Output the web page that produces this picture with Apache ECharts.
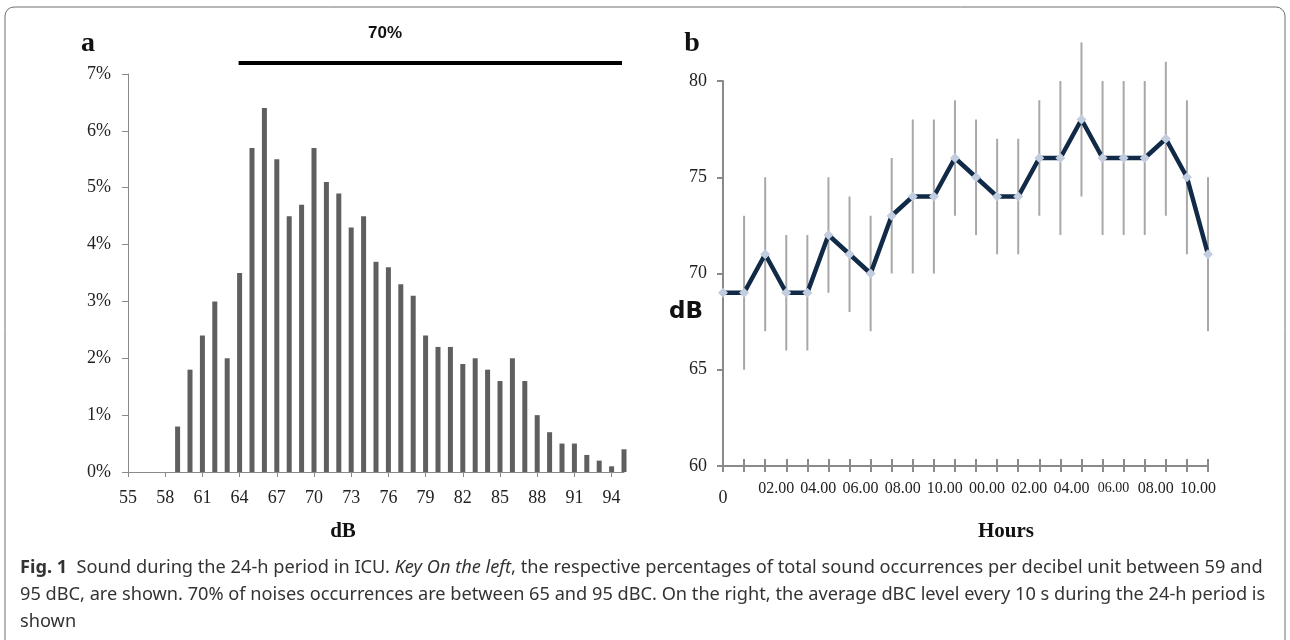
<!DOCTYPE html>
<html>
<head>
<meta charset="utf-8">
<title>Fig. 1 Sound in ICU</title>
<script src="https://cdn.jsdelivr.net/npm/echarts@6/dist/echarts.min.js"></script>
<style>
html, body { margin: 0; padding: 0; background: #fff; }
#main { width: 1290px; height: 640px; }
</style>
</head>
<body>
<div id="main"></div>
<script>
// panel a : share of all sound occurrences per dB unit (%)
var dbCategories = ['55','56','57','58','59','60','61','62','63','64','65','66','67','68','69','70','71','72','73','74',
	'75','76','77','78','79','80','81','82','83','84','85','86','87','88','89','90','91','92','93','94','95'];
var dbShare = [null, null, null, null,
	0.8, 1.8, 2.4, 3.0, 2.0, 3.5, 5.7, 6.4, 5.5, 4.5, 4.7, 5.7, 5.1, 4.9, 4.3, 4.5,
	3.7, 3.6, 3.3, 3.1, 2.4, 2.2, 2.2, 1.9, 2.0, 1.8, 1.6, 2.0, 1.6, 1.0, 0.7, 0.5, 0.5, 0.3, 0.2, 0.1, 0.4];
var rangeFrom = '64';
var rangeTo = '95';
var rangeText = '70%';

// panel b : mean dB per hour with min / max whiskers
var hourCategories = ['0','1','2','3','4','5','6','7','8','9','10','11','12','13','14','15','16','17','18','19','20','21','22','23'];
var hourLabels = ['0','','02.00','','04.00','','06.00','','08.00','','10.00','','00.00','','02.00','','04.00','','06.00','','08.00','','10.00',''];
var meanDb = [69, 69, 71, 69, 69, 72, 71, 70, 73, 74, 74, 76, 75, 74, 74, 76, 76, 78, 76, 76, 76, 77, 75, 71];
var lowDb  = [null, 65, 67, 66, 66, 69, 68, 67, 70, 70, 70, 73, 72, 71, 71, 73, 72, 74, 72, 72, 72, 73, 71, 67];
var highDb = [null, 73, 75, 72, 72, 75, 74, 73, 76, 78, 78, 79, 78, 77, 77, 79, 80, 82, 80, 80, 80, 81, 79, 75];

var caption = '{b|Fig. 1}  Sound during the 24-h period in ICU. {i|Key On the left}, the respective percentages of total sound occurrences per decibel unit between 59 and\n' +
	'95 dBC, are shown. 70% of noises occurrences are between 65 and 95 dBC. On the right, the average dBC level every 10 s during the 24-h period is\n' +
	'shown';

var serif = '"Liberation Serif", "DejaVu Serif", serif';
var capFont = '18.2px "Noto Sans", sans-serif';
var axisGray = '#8a8a8a';

function buildWhiskers(){
	var list = [];
	for (var i = 0; i < hourCategories.length; i++) {
		if (lowDb[i] == null || highDb[i] == null) continue;
		list.push([i, lowDb[i], highDb[i]]);
	}
	return list;
}

function makeUpChart(){
	var myChart = echarts.init(document.getElementById('main'));

	var option = {
		animation: false,
		backgroundColor: '#fff',
		grid: [
			{ left: 128, top: 74, width: 496, height: 398 },
			{ left: 723, top: 81, width: 485, height: 385 }
		],
		xAxis: [
			{
				gridIndex: 0,
				type: 'category',
				data: dbCategories,
				boundaryGap: false,
				axisLine: { lineStyle: { color: axisGray, width: 1 } },
				axisTick: { interval: 2, length: 5, lineStyle: { color: axisGray } },
				axisLabel: { interval: 2, margin: 17, color: '#222', fontFamily: serif, fontSize: 18 },
				splitLine: { show: false }
			},
			{
				gridIndex: 1,
				type: 'category',
				data: hourCategories,
				boundaryGap: false,
				axisLine: { lineStyle: { color: axisGray, width: 2 } },
				axisTick: { interval: 0, length: 6, lineStyle: { color: axisGray, width: 2 } },
				axisLabel: {
					interval: 0,
					margin: 15,
					color: '#222',
					fontFamily: serif,
					formatter: function (value, idx) {
						var t = hourLabels[idx];
						if (!t) return '';
						if (idx == 0) return '{z|' + t + '}';
						if (idx == 18) return '{m|' + t + '}';
						return '{s|' + t + '}';
					},
					rich: {
						z: { fontFamily: serif, fontSize: 18, color: '#222', padding: [8, 0, 0, 0] },
						s: { fontFamily: serif, fontSize: 16, color: '#222', padding: [0, 0, 0, 22] },
						m: { fontFamily: serif, fontSize: 14, color: '#222', padding: [0, 0, 4, 22] }
					}
				},
				splitLine: { show: false }
			},
			{
				// inner half of the crossing ticks
				gridIndex: 1,
				type: 'category',
				position: 'bottom',
				data: hourCategories,
				boundaryGap: false,
				axisLine: { show: false },
				axisTick: { inside: true, interval: 0, length: 7, lineStyle: { color: axisGray, width: 2 } },
				axisLabel: { show: false },
				splitLine: { show: false }
			}
		],
		yAxis: [
			{
				gridIndex: 0,
				type: 'value',
				min: 0,
				max: 7,
				interval: 1,
				axisLine: { show: true, lineStyle: { color: axisGray } },
				axisTick: { show: true, length: 6, lineStyle: { color: axisGray } },
				axisLabel: { formatter: '{value}%', margin: 17, color: '#222', fontFamily: serif, fontSize: 18 },
				splitLine: { show: false }
			},
			{
				gridIndex: 1,
				type: 'value',
				min: 60,
				max: 80,
				interval: 5,
				axisLine: { show: true, lineStyle: { color: axisGray, width: 2 } },
				axisTick: { show: true, length: 6, lineStyle: { color: axisGray, width: 2 } },
				axisLabel: { margin: 16, color: '#222', fontFamily: serif, fontSize: 18 },
				splitLine: { show: false }
			}
		],
		series: [
			{
				name: 'share',
				type: 'bar',
				xAxisIndex: 0,
				yAxisIndex: 0,
				data: dbShare,
				barWidth: 5,
				itemStyle: { color: '#5f5f5f' }
			},
			{
				// 70% bracket above the bars
				name: 'range',
				type: 'custom',
				xAxisIndex: 0,
				yAxisIndex: 0,
				clip: false,
				data: [[dbCategories.indexOf(rangeFrom), dbCategories.indexOf(rangeTo)]],
				renderItem: function (params, api) {
					var p1 = api.coord([api.value(0), 7]);
					var p2 = api.coord([api.value(1), 7]);
					var y = p1[1] - 11;
					return {
						type: 'group',
						children: [
							{ type: 'line', shape: { x1: p1[0] - 1, y1: y, x2: p2[0] - 2, y2: y }, style: { stroke: '#000', lineWidth: 4 } },
							{ type: 'text', x: 385, y: y - 30, style: { text: rangeText, fill: '#111', font: 'bold 17px "Liberation Sans", sans-serif', align: 'center', verticalAlign: 'middle' } }
						]
					};
				}
			},
			{
				name: 'whisker',
				type: 'custom',
				xAxisIndex: 1,
				yAxisIndex: 1,
				clip: false,
				data: buildWhiskers(),
				renderItem: function (params, api) {
					var lo = api.coord([api.value(0), api.value(1)]);
					var hi = api.coord([api.value(0), api.value(2)]);
					return {
						type: 'line',
						shape: { x1: lo[0], y1: lo[1], x2: hi[0], y2: hi[1] },
						style: { stroke: '#a8a8a8', lineWidth: 2 }
					};
				},
				z: 2
			},
			{
				name: 'mean',
				type: 'line',
				xAxisIndex: 1,
				yAxisIndex: 1,
				data: meanDb,
				symbol: 'diamond',
				symbolSize: 10,
				lineStyle: { color: '#112a47', width: 4.5 },
				itemStyle: { color: '#c3cde0', borderWidth: 0 },
				z: 3
			}
		],
		graphic: [
			{
				type: 'rect',
				shape: { x: 5, y: 7, width: 1280, height: 700, r: 9 },
				style: { fill: 'none', stroke: '#6e6e6e', lineWidth: 1 },
				silent: true
			},
			{ type: 'text', x: 88, y: 44, style: { text: 'a', font: 'bold 28px ' + serif, fill: '#111', align: 'center', verticalAlign: 'middle' } },
			{ type: 'text', x: 692, y: 44, style: { text: 'b', font: 'bold 28px ' + serif, fill: '#111', align: 'center', verticalAlign: 'middle' } },
			{ type: 'text', x: 343, y: 532, style: { text: 'dB', font: 'bold 21px ' + serif, fill: '#111', align: 'center', verticalAlign: 'middle' } },
			{ type: 'text', x: 1006, y: 532, style: { text: 'Hours', font: 'bold 21px ' + serif, fill: '#111', align: 'center', verticalAlign: 'middle' } },
			{ type: 'text', x: 686, y: 312, style: { text: 'dB', font: 'bold 23px "DejaVu Sans", sans-serif', fill: '#111', align: 'center', verticalAlign: 'middle' } },
			{
				type: 'text',
				x: 20,
				y: 554,
				style: {
					text: caption,
					font: capFont,
					fill: '#333',
					lineHeight: 27,
					rich: {
						b: { font: 'bold ' + capFont, fill: '#333' },
						i: { font: 'italic ' + capFont, fill: '#333' }
					}
				}
			}
		]
	};

	myChart.setOption(option);
}

makeUpChart();
</script>
</body>
</html>
